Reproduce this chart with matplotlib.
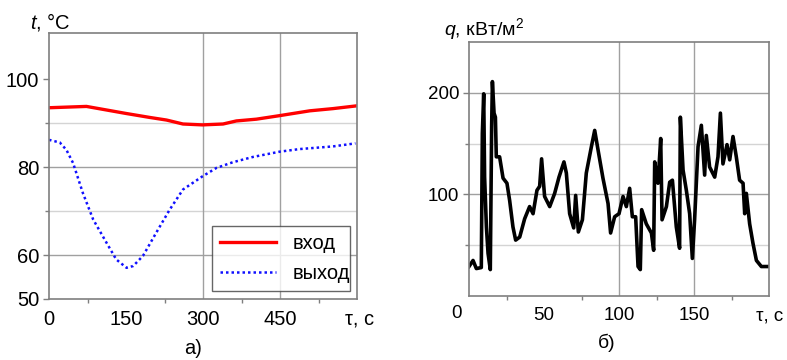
import matplotlib
matplotlib.use("Agg")
import matplotlib.pyplot as plt
from matplotlib.ticker import FixedLocator

plt.rcParams['font.family'] = ['Liberation Sans', 'DejaVu Sans']
plt.rcParams['mathtext.fontset'] = 'custom'
plt.rcParams['mathtext.it'] = 'Liberation Sans:italic'
plt.rcParams['mathtext.rm'] = 'Liberation Sans'

# ---- panel a) data ----
t_in = [0, 73, 150, 196, 229, 261, 299, 339, 365, 404, 449, 508, 553, 597]
T_in = [93.5, 93.8, 92.2, 91.3, 90.7, 89.8, 89.6, 89.8, 90.5, 90.9, 91.7, 92.8, 93.3, 93.9]
t_out = [0, 21, 34, 47, 66, 86, 112, 131, 151, 164, 183, 209, 235, 261, 299, 326, 358, 397, 449, 488, 553, 597]
T_out = [86.2, 85.6, 83.9, 80.9, 74.1, 68.1, 62.8, 59.0, 57.1, 57.5, 59.8, 65.1, 70.3, 74.9,
         77.9, 79.8, 81.1, 82.3, 83.5, 84.1, 84.7, 85.4]
labels_a = ["вход", "выход"]

# ---- panel б) data ----
tau_q = [0, 2.7, 4.9, 8.2, 8.9, 9.8, 10.4, 11.6, 12.7, 14.2, 15.1, 15.6, 16.7, 17.6, 18.2, 20.4,
         22.7, 25.3, 27.1, 29.3, 31.1, 33.8, 37.1, 40.4, 42.7, 45.3, 47.1, 48.4, 50.4, 53.8,
         57.1, 60.0, 63.3, 64.9, 67.1, 69.8, 71.1, 72.9, 75.6, 78.2, 81.6, 83.8, 86.0, 89.3,
         92.7, 94.4, 97.1, 100.0, 102.7, 104.9, 107.1, 108.9, 111.1, 112.7, 114.2, 115.1,
         118.2, 121.6, 123.1, 123.8, 126.0, 127.8, 128.7, 131.6, 133.8, 135.6, 138.2, 140.4,
         140.9, 142.7, 144.9, 147.1, 148.9, 150.4, 152.7, 154.9, 157.1, 158.2, 160.4, 163.8,
         166.0, 167.6, 169.3, 172.0, 173.8, 176.0, 178.2, 180.4, 182.7, 183.8, 184.9, 187.1,
         189.3, 191.6, 194.9, 200.0]
q_vals = [29, 35, 27, 28, 160, 199, 117, 68, 42, 26, 167, 211, 180, 176, 137, 137,
          116, 111, 94, 68, 55, 58, 76, 88, 81, 104, 108, 135, 98, 88,
          101, 117, 132, 121, 81, 67, 99, 63, 75, 121, 147, 163, 144, 116,
          91, 62, 78, 81, 98, 88, 106, 78, 78, 29, 26, 85,
          71, 62, 45, 132, 111, 155, 75, 88, 112, 114, 68, 47,
          176, 124, 104, 81, 37, 75, 147, 168, 119, 158, 127, 117,
          137, 180, 130, 149, 134, 157, 137, 114, 111, 81, 101, 71,
          52, 35, 29, 29]

W, H = 787, 360
fig = plt.figure(figsize=(W / 100, H / 100), dpi=100)

def ax_rect(l, t, r, b):
    return [l / W, 1 - b / H, (r - l) / W, (b - t) / H]

spine_c = "#7f7f7f"
dark_g = "#a0a0a0"
light_g = "#d4d4d4"

# ---------- panel a ----------
ax1 = fig.add_axes(ax_rect(49, 33, 357, 299))
ax1.set_xlim(0, 600)
ax1.set_ylim(50, 110.5)
for y, c in [(60, dark_g), (80, dark_g), (70, light_g), (90, light_g)]:
    ax1.axhline(y, color=c, lw=1, zorder=0)
for x in [300, 450]:
    ax1.axvline(x, color=dark_g, lw=1, zorder=0)
l1, = ax1.plot(t_in, T_in, color="#ff0000", lw=2.4, label=labels_a[0])
l2, = ax1.plot(t_out, T_out, color="#1010ff", lw=1.8, ls=(0, (1, 1.2)), label=labels_a[1])
ax1.set_xticks([0, 150, 300, 450])
ax1.xaxis.set_minor_locator(FixedLocator([75, 225, 375, 525]))
ax1.set_yticks([50, 60, 80, 100])
ax1.yaxis.set_minor_locator(FixedLocator([70, 90]))
ax1.tick_params(axis='both', which='major', labelsize=14.5, color=spine_c, length=4, width=1, pad=3)
ax1.tick_params(axis='both', which='minor', color=spine_c, length=3, width=1)
ax1.tick_params(axis='x', which='major', length=0, pad=8)
for s in ax1.spines.values():
    s.set_color(spine_c)
    s.set_linewidth(1.2)
leg = ax1.legend(handles=[l1, l2], loc='lower left', bbox_to_anchor=(0.529, 0.03, 0.448, 0.267),
                 mode='expand', fontsize=14.5, frameon=True, fancybox=False, handlelength=2.8,
                 borderaxespad=0, labelspacing=0.55, handletextpad=0.8)
leg.get_frame().set_edgecolor("#404040")
leg.get_frame().set_linewidth(1.0)
fig.text(30 / W, 1 - 22 / H, "$t$, °C", fontsize=14.5, va='center', ha='left')
fig.text(360 / W, 1 - 319 / H, "τ, с", fontsize=14.5, va='center', ha='center')
fig.text(193 / W, 1 - 349 / H, "а)", fontsize=14.5, va='center', ha='center')

# ---------- panel б ----------
ax2 = fig.add_axes(ax_rect(469, 42, 769, 296))
ax2.set_xlim(0, 200)
ax2.set_ylim(0, 250)
for y, c in [(100, dark_g), (200, dark_g), (50, light_g), (150, light_g)]:
    ax2.axhline(y, color=c, lw=1, zorder=0)
for x in [100, 150]:
    ax2.axvline(x, color=dark_g, lw=1, zorder=0)
ax2.plot(tau_q, q_vals, color="black", lw=2.6)
ax2.set_xticks([50, 100, 150])
ax2.xaxis.set_minor_locator(FixedLocator([25, 75, 125, 175]))
ax2.set_yticks([100, 200])
ax2.yaxis.set_minor_locator(FixedLocator([50, 150]))
ax2.tick_params(axis='both', which='major', labelsize=13.5, color=spine_c, length=4, width=1, pad=3)
ax2.tick_params(axis='both', which='minor', color=spine_c, length=3, width=1)
ax2.tick_params(axis='x', which='major', length=0, pad=8)
for s in ax2.spines.values():
    s.set_color(spine_c)
    s.set_linewidth(1.2)
fig.text(457 / W, 1 - 313 / H, "0", fontsize=13.5, va='center', ha='center')
fig.text(770 / W, 1 - 316 / H, "τ, с", fontsize=13.5, va='center', ha='center')
fig.text(607 / W, 1 - 343 / H, "б)", fontsize=14, va='center', ha='center')
fig.text(444 / W, 1 - 29 / H, "$q$, кВт/м$^2$", fontsize=14, va='center', ha='left')

fig.savefig("out.png", dpi=100)
